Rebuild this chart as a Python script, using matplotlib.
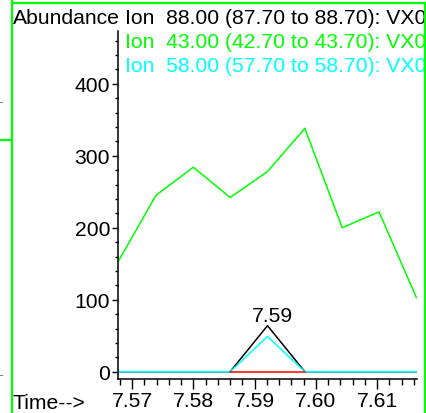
import matplotlib.pyplot as plt
from matplotlib.lines import Line2D
from matplotlib.ticker import MultipleLocator
from matplotlib.transforms import Bbox

plt.rcParams['font.family'] = ['Liberation Sans', 'DejaVu Sans']

# scan times (min) and abundances for the three extracted ions
scan_times = [7.5678, 7.5739, 7.5800, 7.5860, 7.5921, 7.5982, 7.6043, 7.6103, 7.6164]
ion_43 = [154, 245, 284, 242, 278, 338, 200, 222, 103]
ion_88 = [0, 0, 0, 0, 64, 0, 0, 0, 0]
ion_58 = [0, 0, 0, 0, 49, 0, 0, 0, 0]

# integration baseline under the peak
baseline_times = [7.5860, 7.5982]
baseline_values = [0, 0]
peak_time = 7.5921
peak_height = 64

legend_lines = [
    ('Ion  88.00 (87.70 to 88.70): VX0', 'black'),
    ('Ion  43.00 (42.70 to 43.70): VX0', '#00ff00'),
    ('Ion  58.00 (57.70 to 58.70): VX0', '#00ffff'),
]

FS = 15.2
W, H = 427, 414
fig = plt.figure(figsize=(W / 100, H / 100), dpi=100)


def px(x, y):
    # pixel position from the top-left corner -> figure fraction
    return x / W, 1 - y / H


ax = fig.add_axes([118 / W, (H - 380) / H, (417 - 118) / W, (380 - 32) / H])

ax.plot(scan_times, ion_88, color='black', lw=1.1)
ax.plot(scan_times, ion_58, color='#00ffff', lw=1.1)
ax.plot(baseline_times, baseline_values, color='red', lw=1.1)
ax.plot(scan_times, ion_43, color='#00ff00', lw=1.1)

ax.annotate(f'{peak_time:.2f}', xy=(peak_time, peak_height), xytext=(5, 5),
            textcoords='offset pixels', ha='center', va='baseline', fontsize=FS)

ax.set_xlim(7.5677, 7.6165)
ax.set_ylim(-10.1, 473.2)
ax.spines['top'].set_visible(False)
ax.spines['right'].set_visible(False)
ax.spines['left'].set_linewidth(1.1)
ax.spines['bottom'].set_linewidth(1.1)

ax.set_yticks([0, 100, 200, 300, 400])
ax.yaxis.set_minor_locator(MultipleLocator(20))
ax.set_xticks([7.57, 7.58, 7.59, 7.60, 7.61])
ax.set_xticklabels(['7.57', '7.58', '7.59', '7.60', '7.61'])
ax.xaxis.set_minor_locator(MultipleLocator(0.002))

ax.tick_params(axis='y', which='major', direction='out', length=4.5, width=1, pad=1.2, labelsize=FS)
ax.tick_params(axis='y', which='minor', direction='out', length=2.5, width=1)
ax.tick_params(axis='x', which='major', direction='out', length=7.5, width=1, pad=1.2, labelsize=FS)
ax.tick_params(axis='x', which='minor', direction='out', length=4.5, width=1)

# axis captions
fig.text(*px(13, 19), 'Abundance', fontsize=FS, ha='left', va='center')
fig.text(*px(13, 404), 'Time-->', fontsize=FS, ha='left', va='center')

# ion legend, cut off at the window border
clip = fig.transFigure.transform_bbox(Bbox.from_extents(0, 0, 424 / W, 1))
for i, (label, color) in enumerate(legend_lines):
    t = fig.text(*px(125, 19 + 24 * i), label, color=color, fontsize=FS,
                 ha='left', va='center')
    t.set_clip_on(True)
    t.set_clip_box(clip)

# window border
frame = [
    ([12, 12], [0, 414]),
    ([12, 425], [4, 4]),
    ([425, 425], [4, 414]),
    ([0, 11], [141, 141]),
]
for xs, ys in frame:
    pts = [px(x, y) for x, y in zip(xs, ys)]
    fig.add_artist(Line2D([p[0] for p in pts], [p[1] for p in pts],
                          color='#00ff00', lw=1.6, transform=fig.transFigure))

for y in (103, 376):
    p0, p1 = px(0, y), px(2, y)
    fig.add_artist(Line2D([p0[0], p1[0]], [p0[1], p1[1]], color='#888888',
                          lw=0.8, transform=fig.transFigure))

fig.savefig('out.png', dpi=100)
